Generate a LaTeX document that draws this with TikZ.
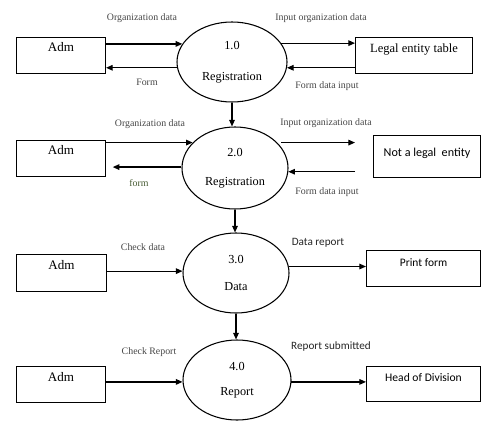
\documentclass[tikz,border=0pt]{standalone}
\usepackage{fontspec}
\setmainfont{Liberation Serif}
\newfontfamily\labelsans{Carlito}
\usetikzlibrary{arrows.meta,shapes.geometric}

\definecolor{labelgray}{RGB}{70,70,70}
\definecolor{olivelabel}{RGB}{70,90,50}

\begin{document}
\begin{tikzpicture}[x=0.75pt,y=-0.75pt,
  store/.style={draw, line width=0.8pt, inner xsep=0pt, inner ysep=0pt,
    anchor=north west, font=\fontsize{9.8}{11}\selectfont},
  proc/.style={draw, ellipse, line width=0.8pt, inner sep=0pt, align=center,
    font=\fontsize{9.2}{11}\selectfont},
  flow/.style={-{Triangle[length=5pt,width=4.2pt]}, line width=0.9pt},
  lab/.style={text=labelgray, inner sep=0pt, font=\fontsize{7.4}{8}\selectfont},
  slab/.style={text=black!85, inner sep=0pt, font=\labelsans\fontsize{8.4}{9}\selectfont}
]
\useasboundingbox (0,0) rectangle (481,421);

% external entities
\node[store, minimum width=66.75pt, text height=10.5pt, text depth=16.5pt] (adm1) at (16,37) {Adm};
\node[store, minimum width=87.75pt, text height=11.25pt, text depth=15.75pt,
  font=\fontsize{9.4}{11}\selectfont] (legal) at (355,37) {Legal entity table};
\node[store, minimum width=66.75pt, text height=10.5pt, text depth=16.5pt] (adm2) at (16,140) {Adm};
\node[store, minimum width=80.25pt, text height=15.75pt, text depth=15.75pt,
  font=\labelsans\fontsize{9.1}{11}\selectfont] (notlegal) at (373,135) {Not a legal\ \ entity};
\node[store, minimum width=67.5pt, text height=11.25pt, text depth=16.5pt] (adm3) at (16,254) {Adm};
\node[store, minimum width=85.5pt, text height=12pt, text depth=15pt,
  font=\labelsans\fontsize{8.6}{11}\selectfont] (print) at (366,250) {Print form};
\node[store, minimum width=66.75pt, text height=11.25pt, text depth=15.75pt] (adm4) at (16,366) {Adm};
\node[store, minimum width=85.5pt, text height=11.25pt, text depth=15pt,
  font=\labelsans\fontsize{8.7}{11}\selectfont] (head) at (366,366) {Head of Division};

% processes
\node[proc, minimum width=82.5pt, minimum height=60pt] (p1) at (232,62) {1.0\\[12pt]Registration};
\node[proc, minimum width=79.5pt, minimum height=61.5pt] (p2) at (235,168) {2.0\\[11pt]Registration};
\node[proc, minimum width=79.5pt, minimum height=60pt] (p3) at (236,273) {3.0\\[9.5pt]Data};
\node[proc, minimum width=81pt, minimum height=60pt] (p4) at (237,380) {4.0\\[8pt]Report};

% row 1 flows
\draw[flow] (adm1.east |- p1.160) -- (p1.160);
\draw[flow] (p1.186) -- (adm1.east |- p1.186);
\draw[flow] (p1.21) -- (legal.west |- p1.21);
\draw[flow] (legal.west |- p1.354) -- (p1.354);

% row 2 flows
\draw[flow] (adm2.east |- p2.149) -- (p2.149);
\draw[flow, shorten >=5pt] (p2.179) -- (adm2.east |- p2.179);
\draw[flow, shorten <=3pt, shorten >=13.5pt] (p2.31) -- (notlegal.west |- p2.31);
\draw[flow, shorten <=13.5pt] (notlegal.west |- p2.356) -- (p2.356);

% row 3 flows
\draw[flow] (adm3.east |- p3.178) -- (p3.178);
\draw[flow] (p3.7) -- (print.west |- p3.7);

% row 4 flows
\draw[flow] (adm4.east |- p4.182) -- (p4.182);
\draw[flow] (p4.358) -- (head.west |- p4.358);

% process chain
\draw[flow] (p1.south) -- (p1.south |- p2.north);
\draw[flow] (p2.south) -- (p2.south |- p3.north);
\draw[flow] (p3.south) -- (p3.south |- p4.north);

% flow labels
\node[lab] (l1) at (142,18) {Organization data};
\node[lab] (l2) at (147,82) {Form};
\node[lab] (l3) at (321,18) {Input organization data};
\node[lab] (l4) at (327,86) {Form data input};
\node[lab] (l5) at (150,124) {Organization data};
\node[lab, text=olivelabel] (l6) at (139,183) {form};
\node[lab] (l7) at (326,123) {Input organization data};
\node[lab] (l8) at (327,192) {Form data input};
\node[lab] (l9) at (143,247) {Check data};
\node[slab] (l10) at (318,243) {Data report};
\node[lab] (l11) at (149,352) {Check Report};
\node[slab] (l12) at (331,347) {Report submitted};
\end{tikzpicture}
\end{document}
